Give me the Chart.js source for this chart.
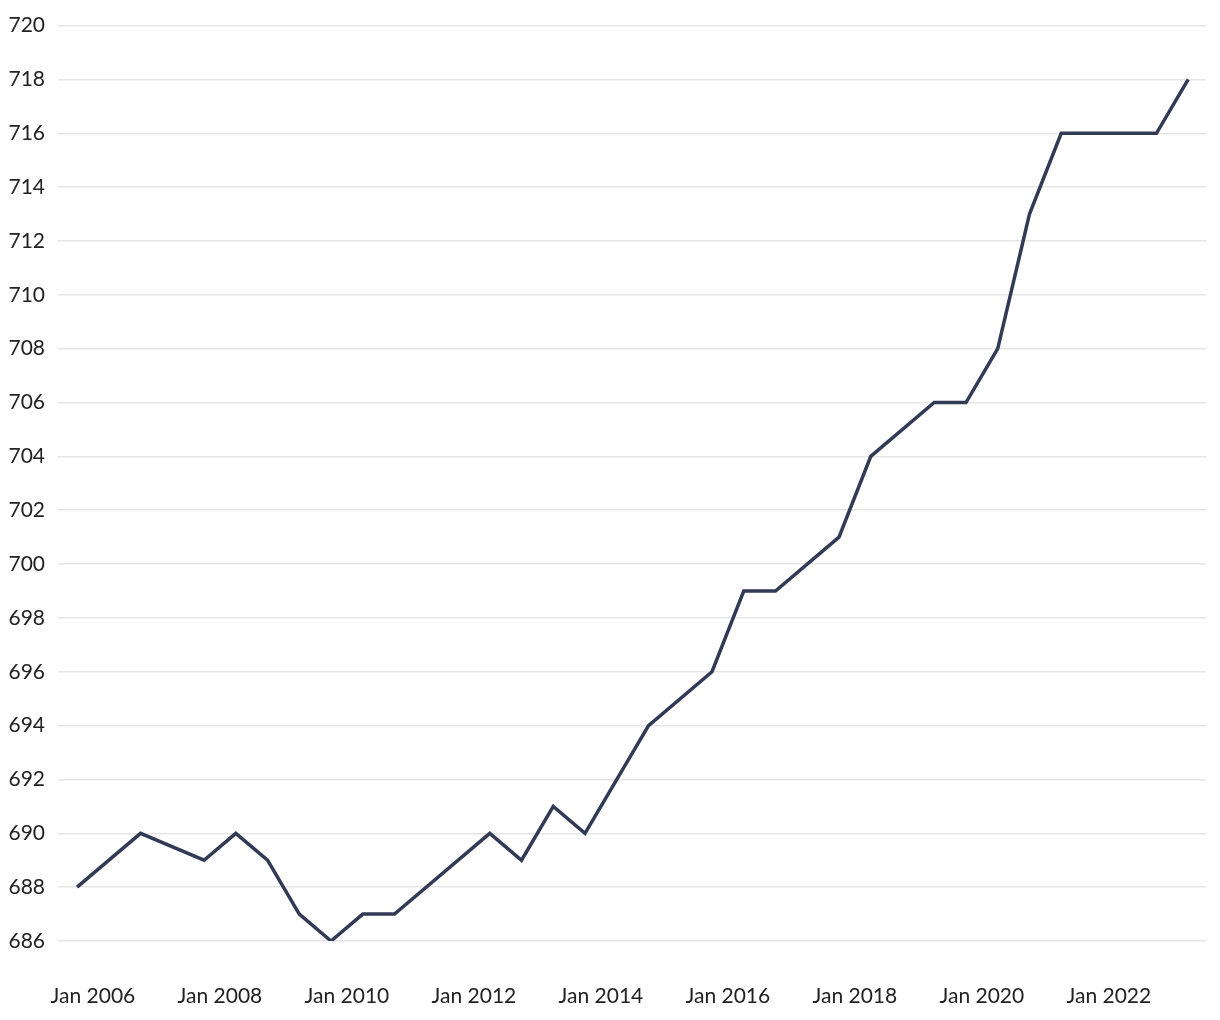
<!DOCTYPE html>
<html>
<head>
<meta charset="utf-8">
<script src="https://cdn.jsdelivr.net/npm/chart.js@4.4.0/dist/chart.umd.min.js"></script>
<style>
  html, body { margin: 0; padding: 0; background: #fff; }
  #wrap { width: 1220px; height: 1020px; }
</style>
</head>
<body>
<div id="wrap"><canvas id="lineChart"></canvas></div>
<script>
const dates = ['2005-10', '2006-10', '2007-10', '2008-04', '2008-10', '2009-04', '2009-10',
  '2010-04', '2010-10', '2012-04', '2012-10', '2013-04', '2013-10', '2014-10', '2015-10',
  '2016-04', '2016-10', '2017-10', '2018-04', '2019-04', '2019-10', '2020-04', '2020-10',
  '2021-04', '2022-10', '2023-04'];
const values = [688, 690, 689, 690, 689, 687, 686, 687, 687, 690, 689, 691, 690, 694, 696,
  699, 699, 701, 704, 706, 706, 708, 713, 716, 716, 718];
const xTickYears = [2006, 2008, 2010, 2012, 2014, 2016, 2018, 2020, 2022];

// date string -> decimal year for the linear x scale
function toYear(d) {
    const parts = d.split('-');
    return Number(parts[0]) + (Number(parts[1]) - 1) / 12;
}

const points = dates.map((d, i) => ({ x: toYear(d), y: values[i] }));
const fontFamily = 'Lato, "Noto Sans", sans-serif';

const ctx = document.getElementById('lineChart').getContext('2d');
new Chart(ctx, {
    type: 'line',
    data: {
        datasets: [{
            data: points,
            borderColor: '#323a56',
            borderWidth: 3.5,
            pointRadius: 0,
            tension: 0,
            fill: false
        }]
    },
    options: {
        responsive: true,
        maintainAspectRatio: false,
        animation: false,
        layout: { padding: { top: 13, right: 14, left: 0, bottom: 0 } },
        plugins: {
            legend: { display: false },
            tooltip: { enabled: false }
        },
        scales: {
            x: {
                type: 'linear',
                min: 2005.45,
                max: 2023.53,
                afterBuildTicks: (scale) => {
                    scale.ticks = xTickYears.map(v => ({ value: v }));
                },
                afterFit: (scale) => { scale.height = 79; },
                grid: { display: false, drawTicks: false },
                border: { display: false },
                ticks: {
                    padding: 43,
                    maxRotation: 0,
                    autoSkip: false,
                    color: '#222',
                    font: { family: fontFamily, size: 21 },
                    callback: (v) => 'Jan ' + v
                }
            },
            y: {
                min: 686,
                max: 720,
                afterFit: (scale) => { scale.width = 58; },
                grid: { color: '#e6e6e6', lineWidth: 1.5, drawTicks: false },
                border: { display: false },
                ticks: {
                    stepSize: 2,
                    padding: 13,
                    color: '#222',
                    font: { family: fontFamily, size: 21 }
                }
            }
        }
    }
});
</script>
</body>
</html>
